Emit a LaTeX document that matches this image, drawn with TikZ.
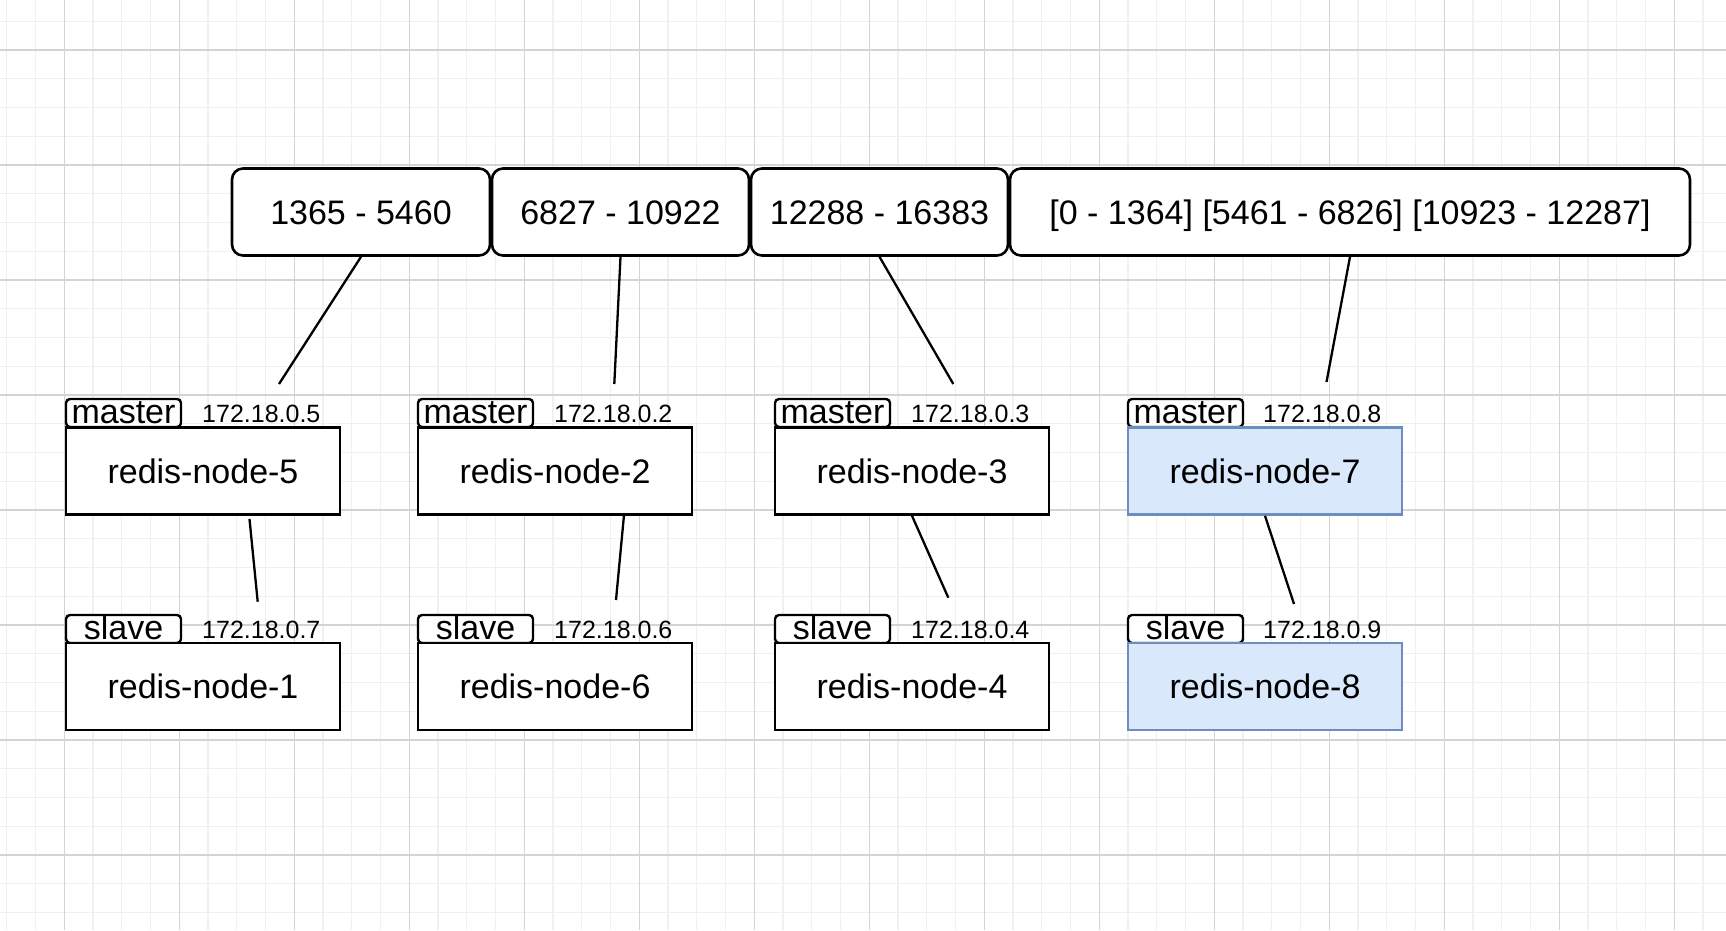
\documentclass[tikz,border=0pt]{standalone}
\usepackage{fontspec}
\setmainfont{Liberation Sans}
\definecolor{gridmajor}{RGB}{212,212,212}
\definecolor{gridminor}{RGB}{240,240,240}
\definecolor{bluefill}{HTML}{DAE8FC}
\definecolor{blueline}{HTML}{6C8EBF}
\begin{document}
\begin{tikzpicture}[x=1pt,y=-1pt,
  rangebox/.style={draw=black,line width=2.6pt,fill=white,rounded corners=11pt,
    minimum height=87pt,inner sep=0pt,font=\fontsize{34}{40}\selectfont,
    text height=24.5pt,text depth=0pt},
  serverbox/.style={draw=black,line width=2.6pt,fill=white,minimum width=274pt,
    minimum height=87pt,inner sep=0pt,font=\fontsize{34}{40}\selectfont,
    text height=24.5pt,text depth=0pt},
  newbox/.style={serverbox,draw=blueline,fill=bluefill},
  tabbox/.style={draw=black,line width=2.4pt,fill=white,rounded corners=4pt,
    minimum width=115pt,minimum height=28pt,inner sep=0pt,
    font=\fontsize{34}{40}\selectfont,text height=20pt,text depth=0pt},
  iptext/.style={anchor=base west,inner sep=0pt,font=\fontsize{25}{29}\selectfont},
  linkline/.style={draw=black,line width=2.3pt}
]
\useasboundingbox (0,0) rectangle (1726,930);
% grid
\begin{scope}
\clip (0,0) rectangle (1726,930);
\fill[white] (0,0) rectangle (1726,930);
\foreach \i in {0,...,60} {\draw[gridminor,line width=1.3pt] ({6.8+28.75*\i},0) -- ++(0,930);}
\foreach \i in {0,...,32} {\draw[gridminor,line width=1.3pt] (0,{21.25+28.75*\i}) -- ++(1726,0);}
\foreach \i in {0,...,14} {\draw[gridmajor,line width=1.3pt] ({64.3+115*\i},0) -- ++(0,930);}
\foreach \i in {0,...,7} {\draw[gridmajor,line width=1.3pt] (0,{50+115*\i}) -- ++(1726,0);}
\end{scope}

% slot range boxes
\node[rangebox,minimum width=258pt] (t1) at (361,212) {1365 - 5460};
\node[rangebox,minimum width=257pt] (t2) at (620.5,212) {6827 - 10922};
\node[rangebox,minimum width=257pt] (t3) at (879.5,212) {12288 - 16383};
\node[rangebox,minimum width=680pt] (t4) at (1350,212) {[0 - 1364] [5461 - 6826] [10923 - 12287]};

% column 1
\node[tabbox] (mt1) at (123.5,413) {master};
\node[serverbox] (m1) at (203,471) {redis-node-5};
\node[iptext] (mi1) at (202,422) {172.18.0.5};
\node[tabbox] (st1) at (123.5,629) {slave};
\node[serverbox] (s1) at (203,686.5) {redis-node-1};
\node[iptext] (si1) at (202,638) {172.18.0.7};

% column 2
\node[tabbox] (mt2) at (475.5,413) {master};
\node[serverbox] (m2) at (555,471) {redis-node-2};
\node[iptext] (mi2) at (554,422) {172.18.0.2};
\node[tabbox] (st2) at (475.5,629) {slave};
\node[serverbox] (s2) at (555,686.5) {redis-node-6};
\node[iptext] (si2) at (554,638) {172.18.0.6};

% column 3
\node[tabbox] (mt3) at (832.5,413) {master};
\node[serverbox] (m3) at (912,471) {redis-node-3};
\node[iptext] (mi3) at (911,422) {172.18.0.3};
\node[tabbox] (st3) at (832.5,629) {slave};
\node[serverbox] (s3) at (912,686.5) {redis-node-4};
\node[iptext] (si3) at (911,638) {172.18.0.4};

% column 4
\node[tabbox] (mt4) at (1185.5,413) {master};
\node[newbox] (m4) at (1265,471) {redis-node-7};
\node[iptext] (mi4) at (1263,422) {172.18.0.8};
\node[tabbox] (st4) at (1185.5,629) {slave};
\node[newbox] (s4) at (1265,686.5) {redis-node-8};
\node[iptext] (si4) at (1263,638) {172.18.0.9};

% free ends of connectors
\coordinate (e1) at (279,384);
\coordinate (e2) at (614.3,384);
\coordinate (e3) at (953.3,384);
\coordinate (e4) at (1326.5,382);
\coordinate (a1) at (249.5,519);
\coordinate (b1) at (257.7,601.7);
\coordinate (a2) at (624,515);
\coordinate (b2) at (616,600);
\coordinate (b3) at (948.3,597.7);
\coordinate (b4) at (1294,604);

% connectors
\draw[linkline] (t1.south) -- (e1);
\draw[linkline] (t2.south) -- (e2);
\draw[linkline] (t3.south) -- (e3);
\draw[linkline] (t4.south) -- (e4);
\draw[linkline] (a1) -- (b1);
\draw[linkline] (a2) -- (b2);
\draw[linkline] (m3.south) -- (b3);
\draw[linkline] (m4.south) -- (b4);
\end{tikzpicture}
\end{document}
